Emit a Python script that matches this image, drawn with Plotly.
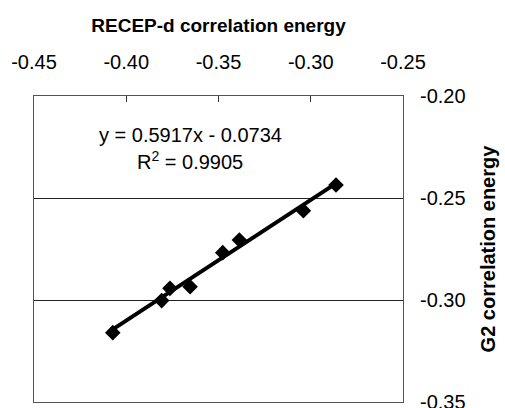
import plotly.graph_objects as go

# Data
recep_d = [-0.4073, -0.3808, -0.3763, -0.3654, -0.3477, -0.3387, -0.3040, -0.2863]
g2 = [-0.3160, -0.3003, -0.2943, -0.2935, -0.2768, -0.2706, -0.2562, -0.2436]

slope = 0.5917
intercept = -0.0734
r_squared = 0.9905

x_tick_vals = [-0.45, -0.40, -0.35, -0.30, -0.25]
x_tick_labels = ["-0.45", "-0.40", "-0.35", "-0.30", "-0.25"]
y_tick_vals = [-0.35, -0.30, -0.25, -0.20]
y_tick_labels = ["-0.35", "-0.30", "-0.25", "-0.20"]

FONT = "Liberation Sans, Arial, Helvetica, sans-serif"

x_line = [min(recep_d), max(recep_d)]
y_line = [slope * v + intercept for v in x_line]

fig = go.Figure()
fig.add_trace(go.Scatter(
    x=x_line, y=y_line, mode="lines",
    line=dict(color="black", width=4), showlegend=False, hoverinfo="skip"))
fig.add_trace(go.Scatter(
    x=recep_d, y=g2, mode="markers",
    marker=dict(symbol="diamond", size=12, color="black"),
    showlegend=False))

fig.add_annotation(
    x=0.4228, y=0.8725, xref="paper", yref="paper",
    text=f"y = {slope:.4f}x - {abs(intercept):.4f}", showarrow=False,
    font=dict(family=FONT, size=20, color="black"), xanchor="center", yanchor="middle")
fig.add_annotation(
    x=0.4228, y=0.79, xref="paper", yref="paper",
    text=f"R<sup>2</sup> = {r_squared:.4f}", showarrow=False,
    font=dict(family=FONT, size=20, color="black"), xanchor="center", yanchor="middle")

fig.update_layout(
    width=505, height=408,
    margin=dict(l=34, r=102, t=96, b=6),
    paper_bgcolor="white", plot_bgcolor="white",
    font=dict(family=FONT, color="black", size=20),
    xaxis=dict(
        side="top", range=[-0.45, -0.25],
        tickvals=x_tick_vals, ticktext=x_tick_labels,
        ticks="inside", ticklen=6, tickcolor="#333",
        showgrid=False, zeroline=False,
        showline=True, linecolor="#555", linewidth=1, mirror=True,
        ticklabelstandoff=18, ticklabeloverflow="allow",
        title=dict(text="<b>RECEP-d correlation energy</b>",
                   font=dict(family=FONT, size=19), standoff=13),
        automargin=False,
    ),
    yaxis=dict(
        side="right", range=[-0.35, -0.20],
        tickvals=y_tick_vals, ticktext=y_tick_labels,
        ticks="", showgrid=True, gridcolor="#222", gridwidth=1,
        zeroline=False,
        showline=True, linecolor="#555", linewidth=1, mirror=True,
        ticklabelstandoff=12, ticklabeloverflow="allow",
        title=dict(text="<b>G2 correlation energy</b>",
                   font=dict(family=FONT, size=20), standoff=16),
        automargin=False,
    ),
)

fig.write_html("out.html", config={"displayModeBar": False},
               post_script="document.body.style.margin='0';")
